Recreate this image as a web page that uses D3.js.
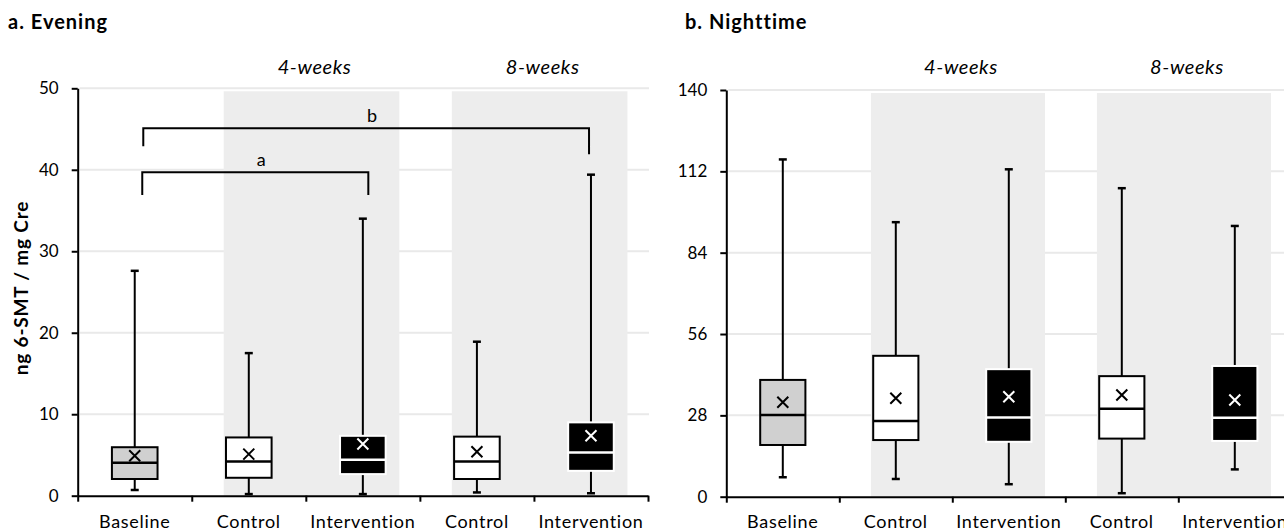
<!DOCTYPE html>
<html>
<head>
<meta charset="utf-8">
<script src="https://cdn.jsdelivr.net/npm/d3@7"></script>
<style>
  body { margin: 0; background: #fff; }
  svg { display: block; font-family: Lato, "Open Sans", sans-serif; }
</style>
</head>
<body>
<div id="chart"></div>
<script>
// categories and groups
var categories = ["Baseline", "Control", "Intervention", "Control", "Intervention"];
var groupLabels = ["4-weeks", "8-weeks"];
// shaded group bands, in category units
var groupStart = [1.28, 3.28];
var groupEnd = [2.82, 4.82];

// a. Evening (ng 6-SMT / mg Cre)
var eveningTicks = [0, 10, 20, 30, 40, 50];
var eveningMin    = [0.7, 0.2, 0.2, 0.4, 0.3];
var eveningQ1     = [2.05, 2.2, 2.65, 2.05, 3.05];
var eveningMedian = [4.05, 4.2, 4.4, 4.2, 5.3];
var eveningQ3     = [5.95, 7.15, 7.35, 7.25, 9.0];
var eveningMax    = [27.6, 17.5, 34.0, 18.9, 39.4];
var eveningMean   = [4.9, 5.1, 6.35, 5.4, 7.35];
// significance brackets: label, x from / to (category units), top, left leg end, right leg end
var eveningBrackets = [
  ["b", 0.575, 4.483, 45.1, 42.9, 41.9],
  ["a", 0.566, 2.548, 39.7, 36.9, 36.9]
];

// b. Nighttime
var nightTicks = [0, 28, 56, 84, 112, 140];
var nightMin    = [6.7, 6.1, 4.3, 1.2, 9.4];
var nightQ1     = [17.8, 19.5, 18.9, 20.0, 19.2];
var nightMedian = [28.1, 26.1, 27.3, 30.3, 27.2];
var nightQ3     = [40.2, 48.5, 43.9, 41.5, 45.0];
var nightMax    = [116.1, 94.5, 112.7, 106.2, 93.2];
var nightMean   = [32.5, 33.9, 34.4, 35.0, 33.3];

var W = 1284, H = 531;
var svg = d3.select("#chart").append("svg")
  .attr("width", W)
  .attr("height", H);

function drawPanel(p) {
  var g = svg.append("g");

  var x = d3.scaleLinear().domain([0, 5]).range([p.x0, p.x1]);
  var y = d3.scaleLinear().domain([0, p.ticks[p.ticks.length - 1]]).range([p.yBottom, p.yTop]);
  var bw = x(1) - x(0);
  var boxW = bw * 0.4;

  // gridlines
  g.append("g").selectAll("line")
    .data(p.ticks.filter(function (d) { return d > 0; }))
    .enter().append("line")
      .attr("x1", p.x0 + 2).attr("x2", p.gridEnd)
      .attr("y1", function (d) { return y(d); })
      .attr("y2", function (d) { return y(d); })
      .attr("stroke", "#e9e9e9")
      .attr("stroke-width", 2);

  // shaded bands for 4-weeks / 8-weeks
  g.append("g").selectAll("rect")
    .data(groupStart)
    .enter().append("rect")
      .attr("x", function (d) { return x(d); })
      .attr("width", function (d, i) { return x(groupEnd[i]) - x(d); })
      .attr("y", y(p.ticks[p.ticks.length - 1]) + 3)
      .attr("height", p.yBottom - y(p.ticks[p.ticks.length - 1]) - 3)
      .attr("fill", "#ededed");

  // group headings
  g.append("g").selectAll("text")
    .data(groupLabels)
    .enter().append("text")
      .attr("x", function (d, i) { return (x(groupStart[i]) + x(groupEnd[i])) / 2 + 3; })
      .attr("y", 74)
      .attr("text-anchor", "middle")
      .style("font-style", "italic")
      .style("font-size", "20px")
      .style("letter-spacing", "0.6px")
      .text(function (d) { return d; });

  // panel title
  g.append("text")
    .attr("x", p.titleX).attr("y", 29)
    .style("font-weight", "bold")
    .style("font-size", "20px")
    .style("letter-spacing", "1px")
    .text(p.title);

  // y axis
  var yAxis = g.append("g")
    .attr("transform", "translate(" + p.x0 + ",0)")
    .call(d3.axisLeft(y).tickValues(p.ticks).tickSize(6).tickSizeOuter(0).tickPadding(13));
  yAxis.select(".domain").attr("stroke", "#000").attr("stroke-width", 2);
  yAxis.selectAll(".tick line").attr("stroke", "#000").attr("stroke-width", 2);
  yAxis.selectAll(".tick text")
    .style("font-size", "17px")
    .style("font-family", "Lato, sans-serif")
    .attr("fill", "#000");

  // boxes
  var rows = categories.map(function (c, i) {
    return { cat: c, i: i, min: p.min[i], q1: p.q1[i], med: p.median[i], q3: p.q3[i], max: p.max[i], mean: p.mean[i] };
  });

  var box = g.append("g").selectAll("g")
    .data(rows)
    .enter().append("g")
      .attr("transform", function (d) { return "translate(" + x(d.i + 0.5) + ",0)"; });

  // whisker
  box.append("line")
    .attr("y1", function (d) { return y(d.min); })
    .attr("y2", function (d) { return y(d.max); })
    .attr("stroke", "#000").attr("stroke-width", 2);
  box.append("line")
    .attr("x1", -4).attr("x2", 4)
    .attr("y1", function (d) { return y(d.max); })
    .attr("y2", function (d) { return y(d.max); })
    .attr("stroke", "#000").attr("stroke-width", 2.5);
  box.append("line")
    .attr("x1", -4).attr("x2", 4)
    .attr("y1", function (d) { return y(d.min); })
    .attr("y2", function (d) { return y(d.min); })
    .attr("stroke", "#000").attr("stroke-width", 2.5);

  function fillOf(d) {
    if (d.cat == "Baseline") return "#d0d0d0";
    if (d.cat == "Control") return "#fff";
    return "#000";
  }
  function inkOf(d) { return d.cat == "Intervention" ? "#fff" : "#000"; }

  box.append("rect")
    .attr("x", -boxW / 2)
    .attr("width", boxW)
    .attr("y", function (d) { return y(d.q3); })
    .attr("height", function (d) { return y(d.q1) - y(d.q3); })
    .attr("fill", fillOf)
    .attr("stroke", inkOf)
    .attr("stroke-width", 2);

  box.append("line")
    .attr("x1", -boxW / 2).attr("x2", boxW / 2)
    .attr("y1", function (d) { return y(d.med); })
    .attr("y2", function (d) { return y(d.med); })
    .attr("stroke", inkOf).attr("stroke-width", 2.5);

  // mean marker
  box.append("path")
    .attr("d", function (d) {
      var cy = y(d.mean), s = 5.5;
      return "M" + (-s) + "," + (cy - s) + "L" + s + "," + (cy + s) +
             "M" + s + "," + (cy - s) + "L" + (-s) + "," + (cy + s);
    })
    .attr("stroke", inkOf).attr("stroke-width", 2).attr("fill", "none");

  // x axis
  var xAxis = g.append("g")
    .attr("transform", "translate(0," + p.yBottom + ")")
    .call(d3.axisBottom(x).tickValues([0, 1, 2, 3, 4, 5]).tickFormat("").tickSize(6).tickSizeOuter(0));
  xAxis.select(".domain").attr("stroke", "#000").attr("stroke-width", 2);
  xAxis.selectAll(".tick line").attr("stroke", "#000").attr("stroke-width", 2);

  g.append("g").selectAll("text")
    .data(categories)
    .enter().append("text")
      .attr("x", function (d, i) { return x(i + 0.5); })
      .attr("y", 528)
      .attr("text-anchor", "middle")
      .style("font-size", "18px")
      .style("letter-spacing", "0.7px")
      .text(function (d) { return d; });

  // brackets
  var br = g.append("g").selectAll("g")
    .data(p.brackets)
    .enter().append("g");
  br.append("path")
    .attr("d", function (d) {
      return "M" + x(d[1]) + "," + y(d[4]) + "V" + y(d[3]) + "H" + x(d[2]) + "V" + y(d[5]);
    })
    .attr("fill", "none").attr("stroke", "#000").attr("stroke-width", 2);
  br.append("text")
    .attr("x", function (d) { return (x(d[1]) + x(d[2])) / 2 + 6; })
    .attr("y", function (d) { return y(d[3]) - 6; })
    .attr("text-anchor", "middle")
    .style("font-size", "18px")
    .text(function (d) { return d[0]; });

  if (p.yTitle) {
    g.append("text")
      .attr("transform", "translate(28," + 288 + ") rotate(-90)")
      .attr("text-anchor", "middle")
      .style("font-weight", "bold")
      .style("font-size", "19px")
      .style("letter-spacing", "0.8px")
      .text(p.yTitle);
  }
}

drawPanel({
  title: "a. Evening", titleX: 8, yTitle: "ng 6-SMT / mg Cre",
  x0: 77.7, x1: 648, gridEnd: 649, yBottom: 495.7, yTop: 88.3,
  ticks: eveningTicks,
  min: eveningMin, q1: eveningQ1, median: eveningMedian, q3: eveningQ3, max: eveningMax, mean: eveningMean,
  brackets: eveningBrackets
});

// white panel background for the right chart
svg.append("rect").attr("x", 650).attr("y", 0).attr("width", W - 650).attr("height", H).attr("fill", "#fff");

drawPanel({
  title: "b. Nighttime", titleX: 685, yTitle: null,
  x0: 726.3, x1: 1291.3, gridEnd: 1284, yBottom: 496.7, yTop: 90,
  ticks: nightTicks,
  min: nightMin, q1: nightQ1, median: nightMedian, q3: nightQ3, max: nightMax, mean: nightMean,
  brackets: []
});
</script>
</body>
</html>
